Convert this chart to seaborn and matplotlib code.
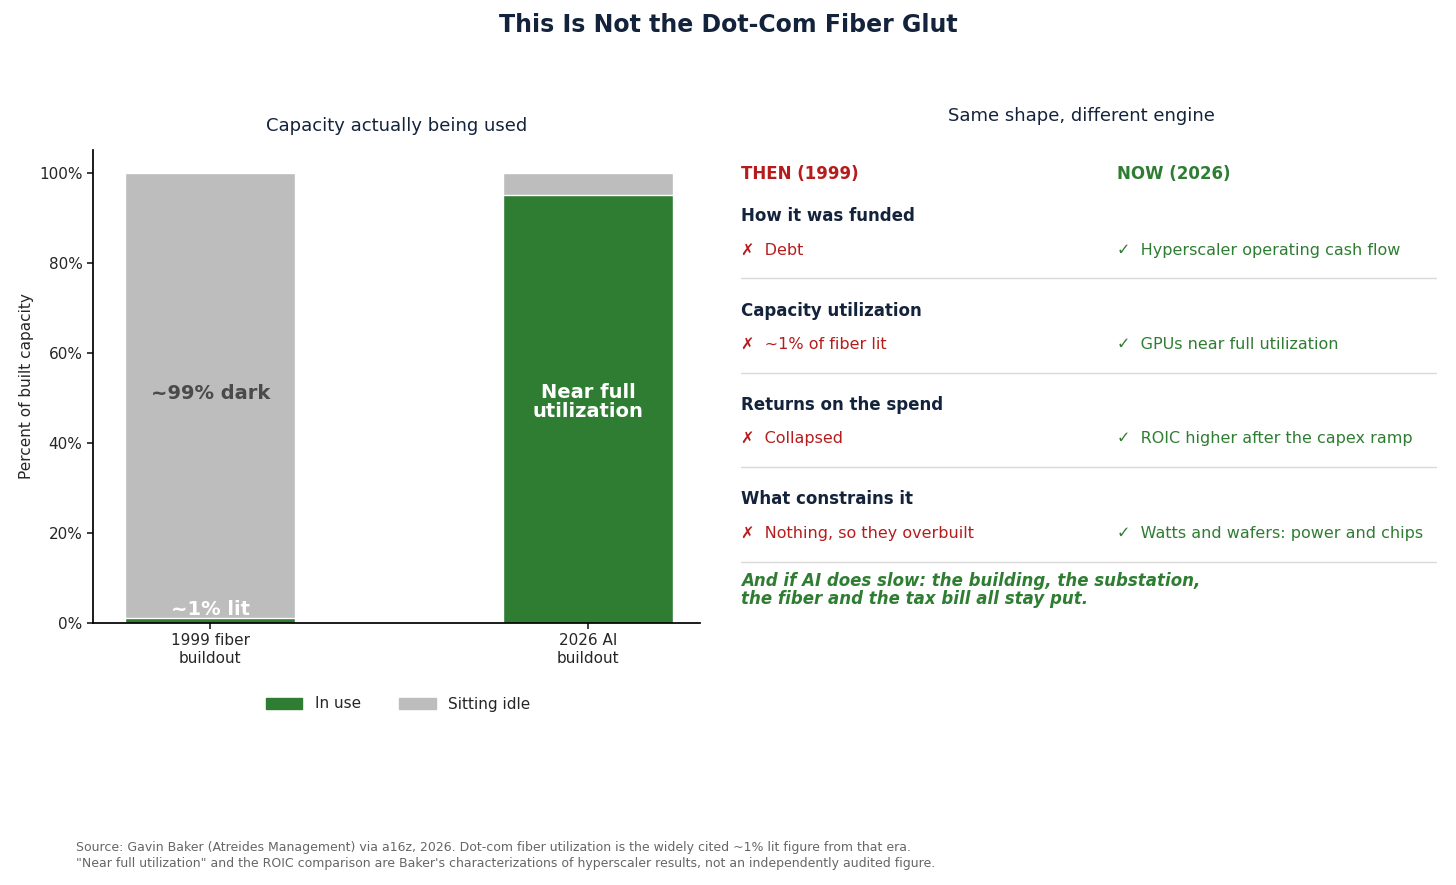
import matplotlib
matplotlib.use("Agg")
import matplotlib.pyplot as plt
import seaborn as sns
import pandas as pd
from matplotlib.patches import Patch

# Data
eras = ["1999 fiber\nbuildout", "2026 AI\nbuildout"]
in_use = [1, 95]
idle = [99, 5]
rows = ["How it was funded", "Capacity utilization", "Returns on the spend", "What constrains it"]
then_items = ["Debt", "~1% of fiber lit", "Collapsed", "Nothing, so they overbuilt"]
now_items = ["Hyperscaler operating cash flow", "GPUs near full utilization",
             "ROIC higher after the capex ramp", "Watts and wafers: power and chips"]

GREEN = "#2e7d32"
GREY = "#bdbdbd"
RED = "#b71c1c"
NAVY = "#14233c"

sns.set_theme(style="white")
plt.rcParams["font.family"] = ["DejaVu Sans"]

W, H = 1456, 885
fig = plt.figure(figsize=(W / 100, H / 100), dpi=100)

def fx(px):
    return px / W

def fy(py):
    return 1 - py / H

ax = fig.add_axes([fx(93), fy(623), fx(700) - fx(93), fy(150) - fy(623)])
df = pd.DataFrame({"era": eras, "in_use": in_use, "total": [a + b for a, b in zip(in_use, idle)]})
sns.barplot(data=df, x="era", y="total", color=GREY, width=0.45, ax=ax, saturation=1)
sns.barplot(data=df, x="era", y="in_use", color=GREEN, width=0.45, ax=ax, saturation=1)
ax.set_xlim(-0.31, 1.296)
ax.set_ylim(0, 105)
ax.set_yticks(range(0, 101, 20))
ax.set_yticklabels([f"{v}%" for v in range(0, 101, 20)], fontsize=11)
ax.tick_params(axis="x", labelsize=11, length=4, bottom=True)
ax.tick_params(axis="y", length=4, left=True)
ax.set_xlabel("")
ax.set_ylabel("Percent of built capacity", fontsize=11)
ax.set_title("Capacity actually being used", fontsize=13, color=NAVY, pad=14)
for s in ["top", "right"]:
    ax.spines[s].set_visible(False)
for s in ["left", "bottom"]:
    ax.spines[s].set_color("black")

ax.text(0, 51, "~99% dark", ha="center", va="center", fontsize=14, fontweight="bold", color="#4a4a4a")
ax.text(0, 3, "~1% lit", ha="center", va="center", fontsize=14, fontweight="bold", color="white")
ax.text(1, 49, "Near full\nutilization", ha="center", va="center", fontsize=14,
        fontweight="bold", color="white", linespacing=1.0)

handles = [Patch(color=GREEN, label="In use"), Patch(color=GREY, label="Sitting idle")]
fig.legend(handles=handles, loc="center", bbox_to_anchor=(fx(398), fy(704)), ncol=2,
           frameon=False, fontsize=11, handlelength=2.4, columnspacing=2.5)

# Title
fig.text(0.5, fy(25), "This Is Not the Dot-Com Fiber Glut", ha="center", va="center",
         fontsize=17, fontweight="bold", color=NAVY)

# Right panel
x1, x2 = fx(741), fx(1117)
fig.text(fx(1081), fy(116), "Same shape, different engine", ha="center", va="center", fontsize=13, color=NAVY)
fig.text(x1, fy(174), "THEN (1999)", fontsize=12, fontweight="bold", color=RED, va="center")
fig.text(x2, fy(174), "NOW (2026)", fontsize=12, fontweight="bold", color=GREEN, va="center")
for i, (r, t, n) in enumerate(zip(rows, then_items, now_items)):
    y0 = 216 + i * 94.5
    fig.text(x1, fy(y0), r, fontsize=12, fontweight="bold", color=NAVY, va="center")
    fig.text(x1, fy(y0 + 34), "\u2717  " + t, fontsize=11.5, color=RED, va="center")
    fig.text(x2, fy(y0 + 34), "\u2713  " + n, fontsize=11.5, color=GREEN, va="center")
    fig.add_artist(plt.Line2D([x1, fx(1436)], [fy(y0 + 62), fy(y0 + 62)], color="#d9d9d9", lw=1))
fig.text(x1, fy(590), "And if AI does slow: the building, the substation,\nthe fiber and the tax bill all stay put.",
         fontsize=12, fontweight="bold", fontstyle="italic", color=GREEN, va="center", linespacing=1.05)

# Source
fig.text(fx(76), fy(856),
         "Source: Gavin Baker (Atreides Management) via a16z, 2026. Dot-com fiber utilization is the widely cited ~1% lit figure from that era.\n"
         "\"Near full utilization\" and the ROIC comparison are Baker's characterizations of hyperscaler results, not an independently audited figure.",
         fontsize=9, color="#666666", va="center", linespacing=1.3)

fig.savefig("out.png", dpi=100)
